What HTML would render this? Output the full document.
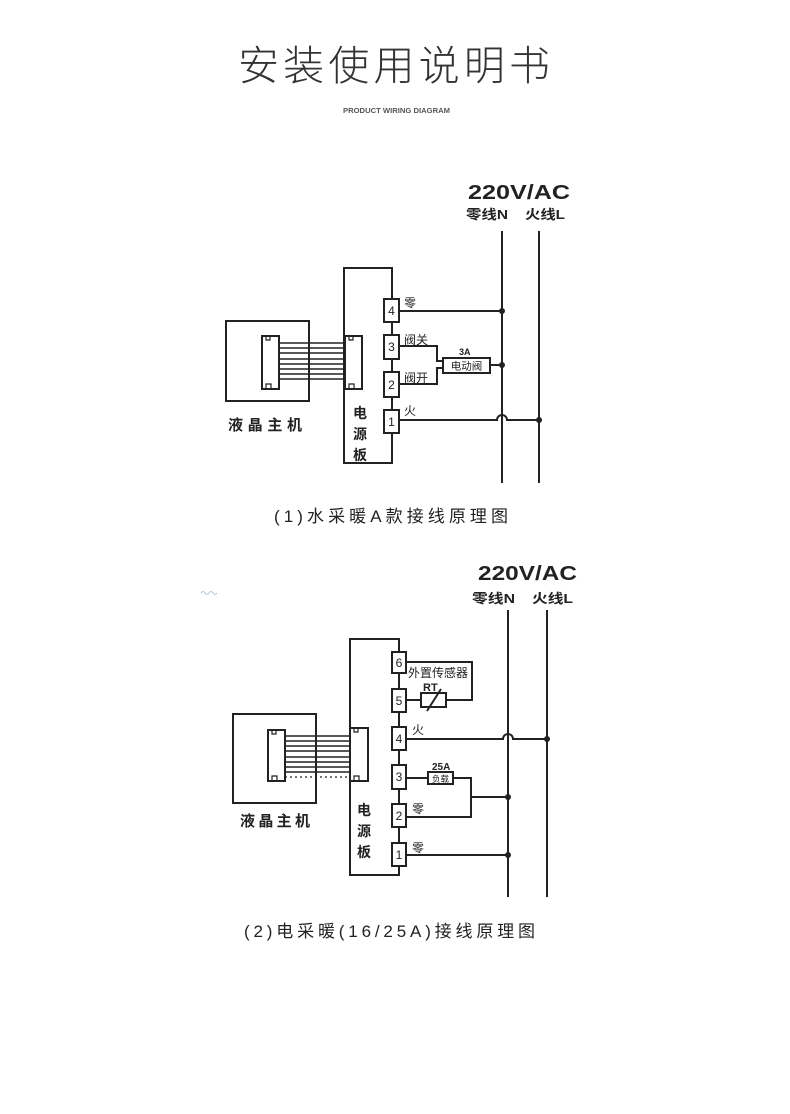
<!DOCTYPE html>
<html>
<head>
<meta charset="utf-8">
<style>
html,body{margin:0;padding:0;background:#fff;}
svg{display:block;}
text{font-family:"Liberation Sans","Noto Sans CJK SC",sans-serif;}
</style>
</head>
<body>
<svg width="790" height="1114" viewBox="0 0 790 1114" xmlns="http://www.w3.org/2000/svg">
<rect width="790" height="1114" fill="#fff"/>

<!-- Header -->
<text x="238" y="80" font-size="41" font-weight="300" fill="#333" textLength="312" lengthAdjust="spacing">安装使用说明书</text>
<text x="343" y="113" font-size="7" font-weight="bold" fill="#555" textLength="107" lengthAdjust="spacingAndGlyphs">PRODUCT WIRING DIAGRAM</text>

<!-- ============ Diagram 1 ============ -->
<g stroke="#222" fill="none" stroke-width="2">
  <line x1="502" y1="231" x2="502" y2="483"/>
  <line x1="539" y1="231" x2="539" y2="483"/>
  <rect x="226" y="321" width="83" height="80"/>
  <rect x="262" y="336" width="17" height="53"/>
  <rect x="344" y="268" width="48" height="195"/>
  <rect x="345" y="336" width="17" height="53"/>
</g>
<g stroke="#222" stroke-width="1.6">
  <line x1="279" y1="343" x2="345" y2="343"/>
  <line x1="279" y1="348" x2="345" y2="348"/>
  <line x1="279" y1="353" x2="345" y2="353"/>
  <line x1="279" y1="359" x2="345" y2="359"/>
  <line x1="279" y1="364" x2="345" y2="364"/>
  <line x1="279" y1="369" x2="345" y2="369"/>
  <line x1="279" y1="374" x2="345" y2="374"/>
  <line x1="279" y1="379" x2="345" y2="379"/>
</g>
<g stroke="#222" stroke-width="1.2" fill="none">
  <path d="M266,336 v4 h4 v-4"/>
  <path d="M266,389 v-5 h5 v5"/>
  <path d="M349,336 v4 h4 v-4"/>
  <path d="M349,389 v-5 h5 v5"/>
</g>
<g stroke="#222" stroke-width="2" fill="#fff">
  <rect x="384" y="299" width="15" height="23"/>
  <rect x="384" y="335" width="15" height="24"/>
  <rect x="384" y="372" width="15" height="25"/>
  <rect x="384" y="410" width="15" height="23"/>
</g>
<g font-size="12" fill="#222" text-anchor="middle">
  <text x="391.5" y="315">4</text>
  <text x="391.5" y="351">3</text>
  <text x="391.5" y="389">2</text>
  <text x="391.5" y="426">1</text>
</g>
<g stroke="#222" stroke-width="2" fill="none">
  <path d="M399,311 H502"/>
  <path d="M399,346 H437 V361 H443"/>
  <path d="M399,384 H437 V368 H443"/>
  <rect x="443" y="358" width="47" height="15"/>
  <path d="M490,365 H502"/>
  <path d="M399,420 H497 A5,5 0 0 1 507,420 H539"/>
</g>
<g fill="#222">
  <circle cx="502" cy="311" r="3"/>
  <circle cx="502" cy="365" r="3"/>
  <circle cx="539" cy="420" r="3"/>
</g>
<g fill="#222" font-size="12">
  <text x="404" y="307">零</text>
  <text x="404" y="344">阀关</text>
  <text x="404" y="382">阀开</text>
  <text x="404" y="415">火</text>
</g>
<text x="459" y="355" font-size="9" font-weight="bold" fill="#222">3A</text>
<text x="466.5" y="369.5" font-size="10.5" fill="#222" text-anchor="middle">电动阀</text>
<text x="468" y="199" font-size="20" font-weight="bold" fill="#222" textLength="102" lengthAdjust="spacingAndGlyphs">220V/AC</text>
<text x="466" y="219" font-size="13" font-weight="bold" fill="#222" textLength="42" lengthAdjust="spacingAndGlyphs">零线N</text>
<text x="525" y="219" font-size="13" font-weight="bold" fill="#222" textLength="40" lengthAdjust="spacingAndGlyphs">火线L</text>
<text x="228" y="430" font-size="15" font-weight="bold" fill="#222" textLength="74" lengthAdjust="spacing">液晶主机</text>
<g font-size="14" font-weight="bold" fill="#222" text-anchor="middle">
  <text x="360" y="418">电</text>
  <text x="360" y="439">源</text>
  <text x="360" y="460">板</text>
</g>
<text x="274" y="522" font-size="17" fill="#222" textLength="234" lengthAdjust="spacing">(1)水采暖A款接线原理图</text>

<path d="M201,593 q2,-3 4,0 q2,3 4,0 q2,-3 4,0 q2,3 4,0" stroke="#9bbbd8" stroke-width="0.8" fill="none"/>

<!-- ============ Diagram 2 ============ -->
<g stroke="#222" fill="none" stroke-width="2">
  <line x1="508" y1="610" x2="508" y2="897"/>
  <line x1="547" y1="610" x2="547" y2="897"/>
  <rect x="233" y="714" width="83" height="89"/>
  <rect x="268" y="730" width="17" height="51"/>
  <rect x="350" y="639" width="49" height="236"/>
  <rect x="350" y="728" width="18" height="53"/>
</g>
<g stroke="#222" stroke-width="1.6">
  <line x1="285" y1="736" x2="350" y2="736"/>
  <line x1="285" y1="741" x2="350" y2="741"/>
  <line x1="285" y1="746" x2="350" y2="746"/>
  <line x1="285" y1="751" x2="350" y2="751"/>
  <line x1="285" y1="757" x2="350" y2="757"/>
  <line x1="285" y1="762" x2="350" y2="762"/>
  <line x1="285" y1="767" x2="350" y2="767"/>
  <line x1="285" y1="772" x2="350" y2="772"/>
  <line x1="285" y1="777" x2="350" y2="777" stroke-dasharray="2,3" stroke-width="1.2"/>
</g>
<g stroke="#222" stroke-width="1.2" fill="none">
  <path d="M272,730 v4 h4 v-4"/>
  <path d="M272,781 v-5 h5 v5"/>
  <path d="M354,728 v4 h4 v-4"/>
  <path d="M354,781 v-5 h5 v5"/>
</g>
<g stroke="#222" stroke-width="2" fill="#fff">
  <rect x="392" y="652" width="14" height="21"/>
  <rect x="392" y="689" width="14" height="23"/>
  <rect x="392" y="727" width="14" height="23"/>
  <rect x="392" y="765" width="14" height="24"/>
  <rect x="392" y="804" width="14" height="23"/>
  <rect x="392" y="843" width="14" height="23"/>
</g>
<g font-size="12" fill="#222" text-anchor="middle">
  <text x="399" y="667">6</text>
  <text x="399" y="705">5</text>
  <text x="399" y="743">4</text>
  <text x="399" y="781">3</text>
  <text x="399" y="820">2</text>
  <text x="399" y="859">1</text>
</g>
<g stroke="#222" stroke-width="2" fill="none">
  <path d="M406,662 H472 V700 H446"/>
  <rect x="421" y="693" width="25" height="14"/>
  <path d="M406,700 H421"/>
  <path d="M427,711 L441,689"/>
  <path d="M406,739 H503 A5,5 0 0 1 513,739 H547"/>
  <path d="M406,778 H428"/>
  <rect x="428" y="772" width="25" height="12"/>
  <path d="M453,778 H471 V817 H406"/>
  <path d="M471,797 H508"/>
  <path d="M406,855 H508"/>
</g>
<g fill="#222">
  <circle cx="547" cy="739" r="3"/>
  <circle cx="508" cy="797" r="3"/>
  <circle cx="508" cy="855" r="3"/>
</g>
<g fill="#222" font-size="12">
  <text x="408" y="677" textLength="60" lengthAdjust="spacing">外置传感器</text>
  <text x="412" y="734">火</text>
  <text x="412" y="813">零</text>
  <text x="412" y="852">零</text>
</g>
<text x="423" y="691" font-size="11" font-weight="bold" fill="#222">RT</text>
<text x="432" y="770" font-size="10" font-weight="bold" fill="#222">25A</text>
<text x="440.5" y="782" font-size="8.5" fill="#222" text-anchor="middle">负载</text>
<text x="478" y="580" font-size="20" font-weight="bold" fill="#222" textLength="99" lengthAdjust="spacingAndGlyphs">220V/AC</text>
<text x="472" y="603" font-size="13" font-weight="bold" fill="#222" textLength="43" lengthAdjust="spacingAndGlyphs">零线N</text>
<text x="532" y="603" font-size="13" font-weight="bold" fill="#222" textLength="41" lengthAdjust="spacingAndGlyphs">火线L</text>
<text x="240" y="826" font-size="15" font-weight="bold" fill="#222" textLength="70" lengthAdjust="spacing">液晶主机</text>
<g font-size="14" font-weight="bold" fill="#222" text-anchor="middle">
  <text x="364" y="815">电</text>
  <text x="364" y="836">源</text>
  <text x="364" y="857">板</text>
</g>
<text x="244" y="937" font-size="17" fill="#222" textLength="291" lengthAdjust="spacing">(2)电采暖(16/25A)接线原理图</text>
</svg>
</body>
</html>
